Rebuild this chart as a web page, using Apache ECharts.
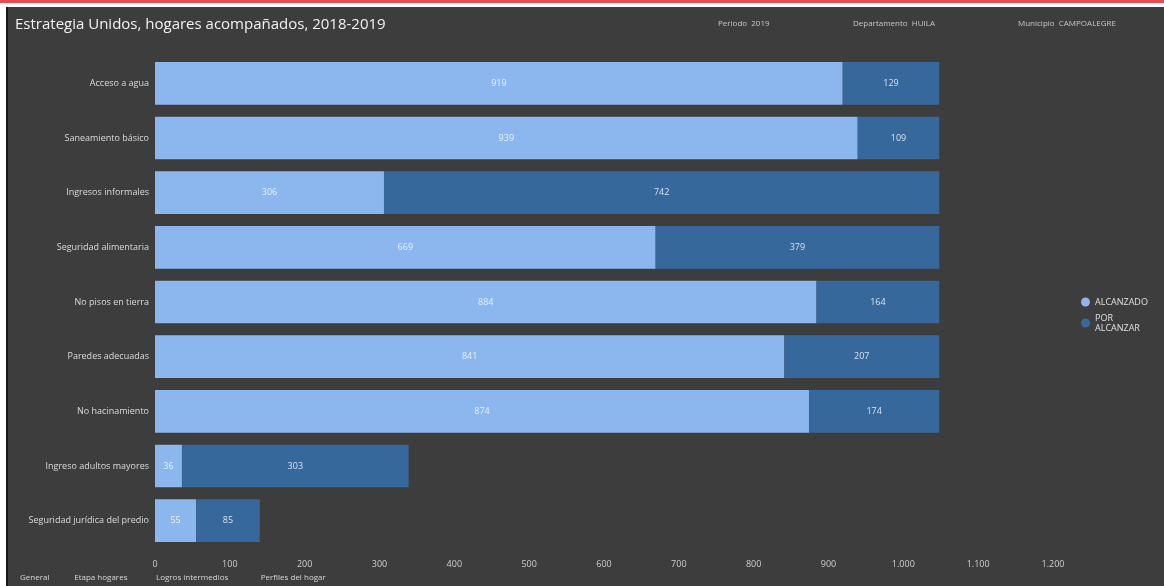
<!DOCTYPE html>
<html>
<head>
<meta charset="utf-8">
<script src="https://cdn.jsdelivr.net/npm/echarts@6/dist/echarts.min.js"></script>
<style>
  html, body { margin: 0; padding: 0; background: #ffffff; }
  #frame { position: absolute; left: 0; top: 0; width: 1164px; height: 586px; background: #fff; }
  #redline { position: absolute; left: 0; top: 0; width: 1164px; height: 3px; background: #e05050; }
  #panel { position: absolute; left: 6px; top: 7px; width: 1158px; height: 579px; background: #3d3d3d; border-left: 2px solid #151515; box-sizing: border-box; }
  #chart { position: absolute; left: 0; top: 0; width: 1164px; height: 586px; }
</style>
</head>
<body>
<div id="frame"><div id="redline"></div><div id="panel"></div></div>
<div id="chart"></div>
<script>
const categories = [
  'Acceso a agua',
  'Saneamiento básico',
  'Ingresos informales',
  'Seguridad alimentaria',
  'No pisos en tierra',
  'Paredes adecuadas',
  'No hacinamiento',
  'Ingreso adultos mayores',
  'Seguridad jurídica del predio'
];
const alcanzado = [919, 939, 306, 669, 884, 841, 874, 36, 55];
const porAlcanzar = [129, 109, 742, 379, 164, 207, 174, 303, 85];
const xTicks = [0, 100, 200, 300, 400, 500, 600, 700, 800, 900, 1000, 1100, 1200];
const bottomTabs = ['General', 'Etapa hogares', 'Logros intermedios', 'Perfiles del hogar'];

const chart = echarts.init(document.getElementById('chart'), null, { renderer: 'canvas' });
const font = '"Open Sans", "Noto Sans", sans-serif';

const tabGraphics = [];
let tx = 20;
bottomTabs.forEach(t => {
  tabGraphics.push({ type: 'text', left: tx, top: 574,
    style: { text: t, fill: '#d8d8d8', font: '8px ' + font } });
  tx += t.length * 4.6 + 22;
});

chart.setOption({
  backgroundColor: 'transparent',
  textStyle: { fontFamily: font },
  title: {
    text: 'Estrategia Unidos, hogares acompañados, 2018-2019',
    left: 10, top: 12,
    textStyle: { color: '#f2f2f2', fontSize: 15, fontWeight: 'normal', fontFamily: font }
  },
  graphic: [
    { type: 'text', left: 718, top: 20, style: { text: 'Periodo  2019', fill: '#c8c8c8', font: '8px ' + font } },
    { type: 'text', left: 853, top: 20, style: { text: 'Departamento  HUILA', fill: '#c8c8c8', font: '8px ' + font } },
    { type: 'text', left: 1018, top: 20, style: { text: 'Municipio  CAMPOALEGRE', fill: '#c8c8c8', font: '8px ' + font } }
  ].concat(tabGraphics),
  legend: {
    orient: 'vertical',
    left: 1076, top: 292,
    itemWidth: 9, itemHeight: 9, itemGap: 6,
    icon: 'circle',
    textStyle: { color: '#e0e0e0', fontSize: 9, lineHeight: 10 },
    data: ['ALCANZADO', 'POR\nALCANZAR']
  },
  grid: { left: 155, right: 111, top: 56, bottom: 38, containLabel: false },
  xAxis: {
    type: 'value', min: 0, max: 1200, interval: 100,
    axisLine: { show: false }, axisTick: { show: false },
    splitLine: { show: false },
    axisLabel: { color: '#cfcfcf', fontSize: 9, margin: 12,
      formatter: v => xTicks.includes(v) ? v.toLocaleString('es-CO').replace('.', '.') : '' }
  },
  yAxis: {
    type: 'category', inverse: true, data: categories,
    axisLine: { show: false }, axisTick: { show: false },
    axisLabel: { color: '#dcdcdc', fontSize: 9, margin: 6 }
  },
  series: [
    {
      name: 'ALCANZADO', type: 'bar', stack: 'total', data: alcanzado,
      barCategoryGap: '22%',
      itemStyle: { color: '#8cb6ee' },
      label: { show: true, position: 'inside', color: '#e8f0fa', fontSize: 9 }
    },
    {
      name: 'POR\nALCANZAR', type: 'bar', stack: 'total', data: porAlcanzar,
      itemStyle: { color: '#36689c' },
      label: { show: true, position: 'inside', color: '#d8e2ee', fontSize: 9 }
    }
  ]
});
</script>
</body>
</html>
